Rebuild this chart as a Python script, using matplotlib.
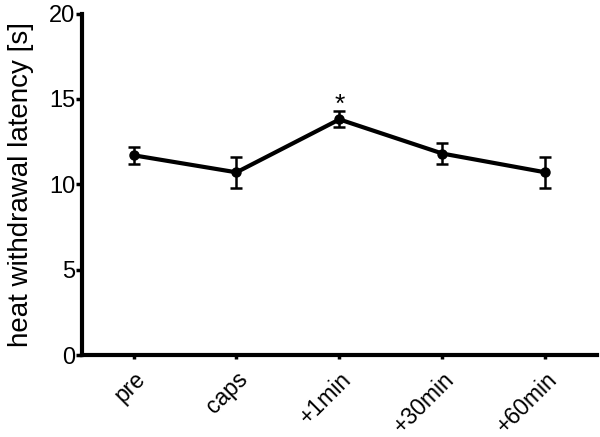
import matplotlib.pyplot as plt

plt.rcParams['font.family'] = ['Liberation Sans', 'DejaVu Sans']

labels = ['pre', 'caps', '+1min', '+30min', '+60min']
means = [11.7, 10.7, 13.8, 11.8, 10.7]
sems = [0.5, 0.9, 0.47, 0.6, 0.9]
star_idx = 2
star_y = 13.95

fig = plt.figure(figsize=(6, 4.37), dpi=100)
ax = fig.add_axes([0.1367, 0.1876, 0.858, 0.7814])

x = list(range(len(labels)))
ax.plot(x, means, color='black', lw=3, marker='o', ms=6.5, zorder=3)
ax.errorbar(x, means, yerr=sems, fmt='none', ecolor='black', elinewidth=1.8,
            capsize=4, capthick=1.8, zorder=2)
ax.text(x[star_idx], star_y, '*', ha='center', va='bottom', fontsize=19)

ax.set_xlim(-0.5, 4.5)
ax.set_ylim(0, 20)
ax.set_yticks([0, 5, 10, 15, 20])
ax.set_xticks(x)
ax.set_xticklabels(labels, rotation=45, ha='right', rotation_mode='anchor')
ax.set_ylabel('heat withdrawal latency [s]', fontsize=20, labelpad=11)

for s in ['top', 'right']:
    ax.spines[s].set_visible(False)
for s in ['left', 'bottom']:
    ax.spines[s].set_linewidth(3)
ax.tick_params(axis='y', labelsize=17, width=2.5, length=4, pad=1)
ax.tick_params(axis='x', labelsize=16.5, width=2.5, length=3, pad=6)

fig.savefig('out.png', dpi=100)
